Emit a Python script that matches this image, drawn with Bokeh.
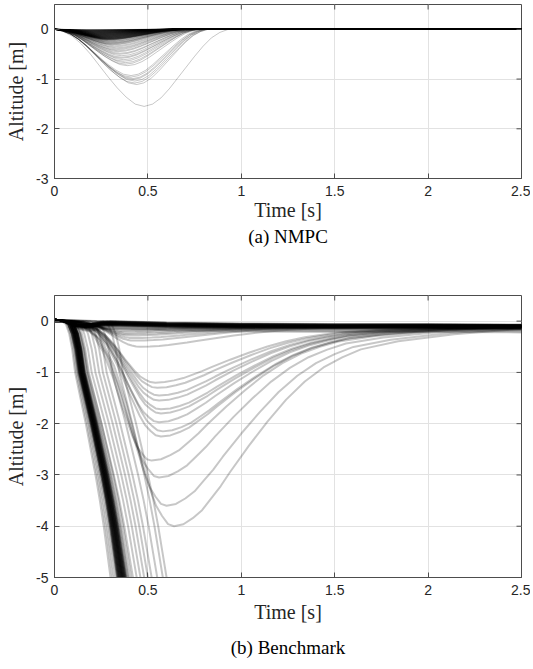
import numpy as np
from bokeh.plotting import figure
from bokeh.models import FixedTicker, Range1d
from bokeh.layouts import column
from bokeh.embed import file_html
from bokeh.resources import INLINE

# ---------------- axis ticks ----------------
X_TICKS = [0, 0.5, 1, 1.5, 2, 2.5]
X_LABELS = ["0", "0.5", "1", "1.5", "2", "2.5"]
NMPC_Y_TICKS = [0, -1, -2, -3]
NMPC_Y_LABELS = ["0", "-1", "-2", "-3"]
BENCH_Y_TICKS = [0, -1, -2, -3, -4, -5]
BENCH_Y_LABELS = ["0", "-1", "-2", "-3", "-4", "-5"]

# ---------------- (a) NMPC trajectories ----------------
# depth of dip [m], time of minimum [s], time back at zero [s]
NMPC_DEPTH = [0.02, 0.03, 0.04, 0.05, 0.06, 0.07, 0.08, 0.09, 0.10, 0.11, 0.12, 0.13, 0.14,
              0.15, 0.16, 0.17, 0.18, 0.19, 0.20, 0.21, 0.22, 0.23, 0.25, 0.26, 0.28, 0.30,
              0.31, 0.33, 0.35, 0.37, 0.39, 0.41, 0.43, 0.45, 0.48, 0.50, 0.53, 0.56, 0.58,
              0.61, 0.64, 0.67, 0.70, 0.73, 0.93, 0.96, 0.99, 1.01, 1.04, 1.08, 1.11, 1.55,
              0.01, 0.015, 0.025, 0.035, 0.045, 0.055, 0.065, 0.075, 0.085, 0.095, 0.105,
              0.115, 0.125, 0.135, 0.145, 0.155, 0.165, 0.175, 0.185, 0.195, 0.205, 0.215,
              0.24, 0.27, 0.29,
              0.005, 0.01, 0.015, 0.02, 0.025, 0.03, 0.035, 0.04, 0.045, 0.05,
              0.055, 0.06, 0.065, 0.07, 0.075, 0.08, 0.085, 0.09, 0.095, 0.1,
              0.105, 0.11, 0.115, 0.12, 0.125, 0.13, 0.135, 0.14, 0.145, 0.15,
              0.155, 0.16, 0.165, 0.17, 0.175, 0.18, 0.185, 0.19, 0.195, 0.2]
NMPC_TMIN = [0.19, 0.20, 0.20, 0.21, 0.21, 0.22, 0.22, 0.22, 0.23, 0.23, 0.24, 0.24, 0.25,
             0.25, 0.26, 0.26, 0.27, 0.27, 0.28, 0.28, 0.28, 0.29, 0.29, 0.30, 0.30, 0.31,
             0.31, 0.32, 0.32, 0.33, 0.33, 0.33, 0.34, 0.34, 0.35, 0.35, 0.36, 0.36, 0.36,
             0.37, 0.37, 0.38, 0.38, 0.39, 0.41, 0.41, 0.42, 0.42, 0.43, 0.43, 0.44, 0.48,
             0.18, 0.19, 0.20, 0.20, 0.21, 0.21, 0.22, 0.22, 0.22, 0.23, 0.23,
             0.24, 0.24, 0.25, 0.25, 0.26, 0.26, 0.27, 0.27, 0.28, 0.28, 0.28,
             0.29, 0.30, 0.30,
             0.18, 0.18, 0.19, 0.19, 0.20, 0.20, 0.20, 0.21, 0.21, 0.21,
             0.22, 0.22, 0.22, 0.22, 0.23, 0.23, 0.23, 0.23, 0.24, 0.24,
             0.24, 0.24, 0.25, 0.25, 0.25, 0.25, 0.26, 0.26, 0.26, 0.26,
             0.27, 0.27, 0.27, 0.27, 0.28, 0.28, 0.28, 0.28, 0.28, 0.29]
NMPC_TEND = [0.58, 0.59, 0.60, 0.60, 0.61, 0.61, 0.62, 0.62, 0.63, 0.63, 0.64, 0.64, 0.65,
             0.65, 0.66, 0.66, 0.67, 0.67, 0.68, 0.68, 0.69, 0.69, 0.70, 0.70, 0.71, 0.71,
             0.72, 0.72, 0.73, 0.73, 0.73, 0.74, 0.74, 0.74, 0.75, 0.75, 0.75, 0.76, 0.76,
             0.76, 0.77, 0.77, 0.77, 0.78, 0.79, 0.80, 0.80, 0.81, 0.81, 0.82, 0.82, 0.93,
             0.56, 0.58, 0.59, 0.60, 0.61, 0.61, 0.62, 0.62, 0.63, 0.63, 0.64,
             0.64, 0.65, 0.65, 0.66, 0.66, 0.67, 0.67, 0.68, 0.68, 0.69, 0.69,
             0.70, 0.71, 0.71,
             0.55, 0.56, 0.57, 0.58, 0.58, 0.59, 0.59, 0.60, 0.60, 0.61,
             0.61, 0.62, 0.62, 0.63, 0.63, 0.63, 0.64, 0.64, 0.64, 0.65,
             0.65, 0.65, 0.66, 0.66, 0.66, 0.67, 0.67, 0.67, 0.68, 0.68,
             0.68, 0.69, 0.69, 0.69, 0.70, 0.70, 0.70, 0.71, 0.71, 0.72]
# dip shape (fraction of depth)
NMPC_DOWN_U = [0, 0.1, 0.2, 0.3, 0.4, 0.5, 0.6, 0.7, 0.8, 0.9, 1.0]
NMPC_DOWN_F = [0, 0.03, 0.09, 0.19, 0.32, 0.47, 0.62, 0.76, 0.88, 0.97, 1.0]
NMPC_UP_V = [0, 0.1, 0.2, 0.3, 0.4, 0.5, 0.6, 0.7, 0.8, 0.9, 1.0]
NMPC_UP_F = [1.0, 0.97, 0.89, 0.77, 0.63, 0.49, 0.35, 0.22, 0.11, 0.04, 0.0]
NMPC_TAIL_DT = [0.12, 0.35, 0.8]
NMPC_TAIL_Y = [0.015, 0.007, 0.0]
T_END = 2.5

# ---------------- (b) Benchmark trajectories ----------------
# traces that stay in the band near zero
BAND_T = [0, 0.04, 0.08, 0.12, 0.16, 0.2, 0.25, 0.3, 0.4, 0.6, 0.8, 1.0, 1.5, 2.0, 2.5]
BAND_Y = [0.03, 0.01, -0.03, -0.07, -0.08, -0.06, -0.03, -0.02, -0.03, -0.05, -0.06, -0.07, -0.08, -0.08, -0.09]
BAND_W = [0, 0, 0.2, 0.5, 0.8, 1, 1, 1, 1, 1, 1, 1, 1, 1, 1]
BAND_OFF = [-0.06, -0.05, -0.045, -0.04, -0.035, -0.03, -0.025, -0.02, -0.015, -0.01,
            -0.005, 0.0, 0.005, 0.01, 0.015, 0.02, 0.025, -0.03, -0.02, -0.01, 0.0, 0.01,
            -0.04, -0.05, -0.07, -0.09, -0.11, -0.13,
            -0.055, -0.045, -0.035, -0.025, -0.015, -0.005, 0.005, 0.015, -0.03, -0.02,
            -0.06, -0.08]
# traces with a recoverable dip: depth [m] and time of minimum [s]
DIP_DEPTH = [0.16, 0.19, 0.22, 0.25, 0.28, 0.33, 0.38, 0.50,
             1.2, 1.3, 1.45, 1.55, 1.72, 1.8, 1.97, 2.15, 2.25, 2.72, 3.05, 3.6, 4.0]
DIP_TMIN = [0.34, 0.36, 0.38, 0.39, 0.40, 0.42, 0.43, 0.46,
            0.54, 0.55, 0.56, 0.56, 0.57, 0.57, 0.56, 0.58, 0.57, 0.52, 0.56, 0.60, 0.64]
STEADY = -0.08
DIP_DOWN_U = [0, 0.1, 0.2, 0.3, 0.4, 0.5, 0.6, 0.7, 0.8, 0.85, 0.9, 0.95, 1.0]
DIP_DOWN_F = [0, 0.0, 0.01, 0.04, 0.1, 0.22, 0.4, 0.62, 0.82, 0.9, 0.95, 0.99, 1.0]
REC_DT = [0, 0.05, 0.1, 0.15, 0.2, 0.25, 0.3, 0.4, 0.5, 0.6, 0.7, 0.8, 0.9, 1.0, 1.2, 1.5, 1.8, 2.2]
REC_R = [1, 0.99, 0.96, 0.92, 0.86, 0.80, 0.73, 0.6, 0.48, 0.37, 0.28, 0.21, 0.16, 0.12,
         0.08, 0.045, 0.022, 0.008]
# traces that fall through -5 m: start of fall and time at -5 m
CRASH_T0 = [0.05, 0.06, 0.07, 0.05, 0.08, 0.06, 0.07, 0.05, 0.08, 0.06, 0.07, 0.05, 0.06,
            0.08, 0.07, 0.06, 0.05, 0.08, 0.07, 0.06, 0.08, 0.07, 0.06, 0.08, 0.07, 0.08,
            0.08, 0.09, 0.09, 0.10,
            0.06, 0.07, 0.05, 0.06, 0.07, 0.08, 0.06, 0.07, 0.08, 0.07, 0.08, 0.06, 0.07,
            0.06, 0.08, 0.08, 0.05, 0.07, 0.06, 0.06,
            0.04, 0.045, 0.05, 0.09, 0.11, 0.13, 0.15, 0.17, 0.19, 0.22, 0.26, 0.28]
CRASH_T5 = [0.33, 0.335, 0.34, 0.34, 0.345, 0.345, 0.35, 0.35, 0.35, 0.355, 0.355, 0.36,
            0.36, 0.36, 0.36, 0.365, 0.365, 0.365, 0.37, 0.37, 0.37, 0.375, 0.375, 0.38,
            0.38, 0.385, 0.39, 0.395, 0.40, 0.41,
            0.335, 0.34, 0.345, 0.35, 0.355, 0.36, 0.365, 0.37, 0.375, 0.38, 0.385, 0.34,
            0.35, 0.36, 0.37, 0.38, 0.355, 0.365, 0.375, 0.345,
            0.30, 0.31, 0.32, 0.42, 0.44, 0.46, 0.48, 0.50, 0.52, 0.55, 0.58, 0.60]
CRASH_U = [0, 0.08, 0.15, 0.21, 0.27, 0.38, 0.49, 0.59, 0.69, 0.78, 0.86, 0.93, 1.0, 1.12]
CRASH_Y = [0, -0.06, -0.25, -0.55, -1.0, -1.5, -2.0, -2.5, -3.0, -3.5, -4.0, -4.5, -5.0, -6.2]

# ---------------- build traces ----------------
nmpc_xs, nmpc_ys = [], []
for d, tm, te in zip(NMPC_DEPTH, NMPC_TMIN, NMPC_TEND):
    t = list(tm * np.array(NMPC_DOWN_U)) + list(tm + (te - tm) * np.array(NMPC_UP_V[1:]))
    y = list(-d * np.array(NMPC_DOWN_F)) + list(-d * np.array(NMPC_UP_F[1:]))
    t += list(te + np.array(NMPC_TAIL_DT)) + [T_END]
    y += list(NMPC_TAIL_Y) + [0.0]
    nmpc_xs.append(t)
    nmpc_ys.append(y)

bench_xs, bench_ys = [], []
for off in BAND_OFF:
    bench_xs.append(list(BAND_T))
    bench_ys.append(list(np.array(BAND_Y) + off * np.array(BAND_W)))
for d, tm in zip(DIP_DEPTH, DIP_TMIN):
    t = list(tm * np.array(DIP_DOWN_U)) + list(tm + np.array(REC_DT[1:]))
    y = list(-d * np.array(DIP_DOWN_F)) + list(STEADY + (-d - STEADY) * np.array(REC_R[1:]))
    bench_xs.append(t)
    bench_ys.append(y)
for t0, t5 in zip(CRASH_T0, CRASH_T5):
    t = [0.0] + list(t0 + (t5 - t0) * np.array(CRASH_U))
    y = [0.02] + list(CRASH_Y)
    bench_xs.append(t)
    bench_ys.append(y)

TICK_FONT = "Liberation Sans"
SERIF = "Liberation Serif"
AX_COLOR = "#4d4d4d"
GRID_COLOR = "#e2e2e2"


def style(p, yticks, ylabels, y_top, xlabel_standoff, caption_standoff):
    p.xaxis.ticker = FixedTicker(ticks=X_TICKS)
    p.xaxis.major_label_overrides = {k: v for k, v in zip(X_TICKS, X_LABELS)}
    p.yaxis.ticker = FixedTicker(ticks=yticks)
    p.yaxis.major_label_overrides = {k: v for k, v in zip(yticks, ylabels)}
    p.xgrid.ticker = FixedTicker(ticks=X_TICKS)
    p.ygrid.ticker = FixedTicker(ticks=yticks)
    p.grid.grid_line_color = GRID_COLOR
    p.grid.grid_line_width = 1
    for ax in (p.xaxis, p.yaxis):
        ax.major_tick_in = 5
        ax.major_tick_out = 0
        ax.minor_tick_line_color = None
        ax.major_tick_line_color = AX_COLOR
        ax.axis_line_color = AX_COLOR
        ax.major_label_text_font = TICK_FONT
        ax.major_label_text_font_size = "14px"
        ax.major_label_text_color = "#262626"
        ax.axis_label_text_font = SERIF
        ax.axis_label_text_font_style = "normal"
        ax.axis_label_text_font_size = "20px"
        ax.axis_label_text_color = "#262626"
    p.xaxis.major_label_standoff = 7
    p.yaxis.major_label_standoff = 6
    p.xaxis.axis_label_standoff = xlabel_standoff
    p.yaxis.axis_label_standoff = 6
    p.xaxis.axis_label = "Time [s]"
    p.yaxis.axis_label = "Altitude [m]"
    # inward ticks on the top and right edges of the box
    xin = [v for v in X_TICKS if 0 < v < 2.5]
    yin = [v for v in yticks if v > min(yticks)]
    p.scatter(xin, [y_top] * len(xin), marker="dash", angle=np.pi / 2, size=10,
              line_color=AX_COLOR, line_width=1)
    p.scatter([2.5] * len(yin), yin, marker="dash", size=10,
              line_color=AX_COLOR, line_width=1)
    p.outline_line_color = AX_COLOR
    p.title.align = "center"
    p.title.text_font = SERIF
    p.title.text_font_style = "normal"
    p.title.text_font_size = "19px"
    p.title.text_color = "#000000"
    p.title.standoff = caption_standoff


p1 = figure(width=530, height=287, x_range=Range1d(0, 2.5), y_range=Range1d(-3, 0.5),
            min_border_top=4, min_border_left=54, min_border_right=9, min_border_bottom=109,
            toolbar_location=None, output_backend="svg", title="(a) NMPC",
            title_location="below")
for xs, ys in zip(nmpc_xs, nmpc_ys):
    p1.line(xs, ys, line_color="black", line_alpha=0.22, line_width=1)
style(p1, NMPC_Y_TICKS, NMPC_Y_LABELS, 0.5, 0, 0)

p2 = figure(width=530, height=380, x_range=Range1d(0, 2.5), y_range=Range1d(-5, 0.5),
            min_border_top=8, min_border_left=54, min_border_right=9, min_border_bottom=90,
            toolbar_location=None, output_backend="svg", title="(b) Benchmark",
            title_location="below")
for xs, ys in zip(bench_xs, bench_ys):
    p2.line(xs, ys, line_color="black", line_alpha=0.22, line_width=2)
style(p2, BENCH_Y_TICKS, BENCH_Y_LABELS, 0.5, 3, 19)

layout = column(p1, p2, spacing=0)
open("out.html", "w").write(file_html(layout, INLINE))
